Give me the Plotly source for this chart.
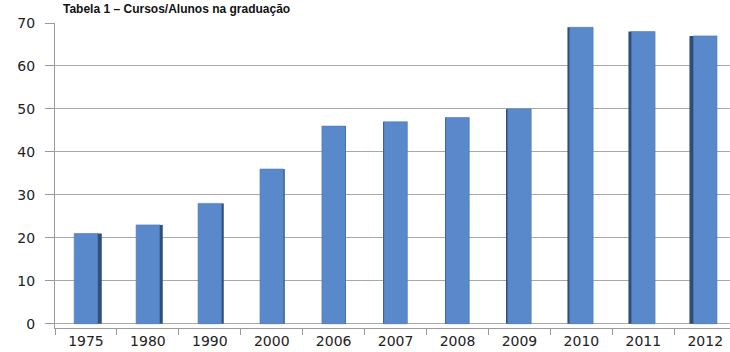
import plotly.graph_objects as go

years = ["1975", "1980", "1990", "2000", "2006", "2007", "2008", "2009", "2010", "2011", "2012"]
values = [21, 23, 28, 36, 46, 47, 48, 50, 69, 68, 67]
title_text = "Tabela 1 – Cursos/Alunos na graduação"
y_ticks = [0, 10, 20, 30, 40, 50, 60, 70]

n = len(years)
front_w = 0.38
# perspective side faces: left bars show right side, right bars show left side
side_w = []
side_off = []
for i in range(n):
    d = (i - (n - 1) / 2) / ((n - 1) / 2)
    w = max(abs(d) * 0.075, 0.012)
    side_w.append(w)
    if d < 0:
        side_off.append(front_w / 2 - 0.01)
    else:
        side_off.append(-front_w / 2 - w + 0.01)

fig = go.Figure()
fig.add_trace(go.Bar(
    x=years, y=values, width=side_w, offset=side_off,
    marker=dict(color="#2f4d77", line=dict(width=0)), hoverinfo="skip", showlegend=False,
))
fig.add_trace(go.Bar(
    x=years, y=values, width=front_w, offset=-front_w / 2,
    marker=dict(color="#5a89cb", line=dict(width=0.6, color="#4a78b8")), showlegend=False,
))

fig.update_layout(
    width=730, height=352,
    margin=dict(l=55, r=0, t=23, b=24),
    paper_bgcolor="white", plot_bgcolor="white",
    barmode="overlay",
    font=dict(family="DejaVu Sans", size=14, color="#222"),
    xaxis=dict(
        type="category", range=[-0.5, 10.4],
        showline=True, linecolor="#9a9a9a", linewidth=1,
        ticks="outside", tickson="boundaries", ticklen=6, tickcolor="#9a9a9a",
        showgrid=False, tickfont=dict(size=14, family="DejaVu Sans", color="#222"),
    ),
    yaxis=dict(
        range=[-1, 70], tickvals=y_ticks,
        showline=True, linecolor="#9a9a9a", linewidth=1,
        ticks="outside", ticklen=9, tickcolor="#9a9a9a",
        showgrid=True, gridcolor="#a8a8a8", gridwidth=1, zeroline=False,
        ticklabelstandoff=7,
        tickfont=dict(size=14, family="DejaVu Sans", color="#222"),
    ),
    annotations=[dict(
        text="<b>" + title_text + "</b>", xref="paper", yref="paper",
        x=(292 - 55) / 675, y=1 + (23 - 0) / 305, xanchor="right", yanchor="top",
        showarrow=False, font=dict(family="Liberation Sans", size=12, color="#111"),
    )],
)

fig.write_html("out.html")
